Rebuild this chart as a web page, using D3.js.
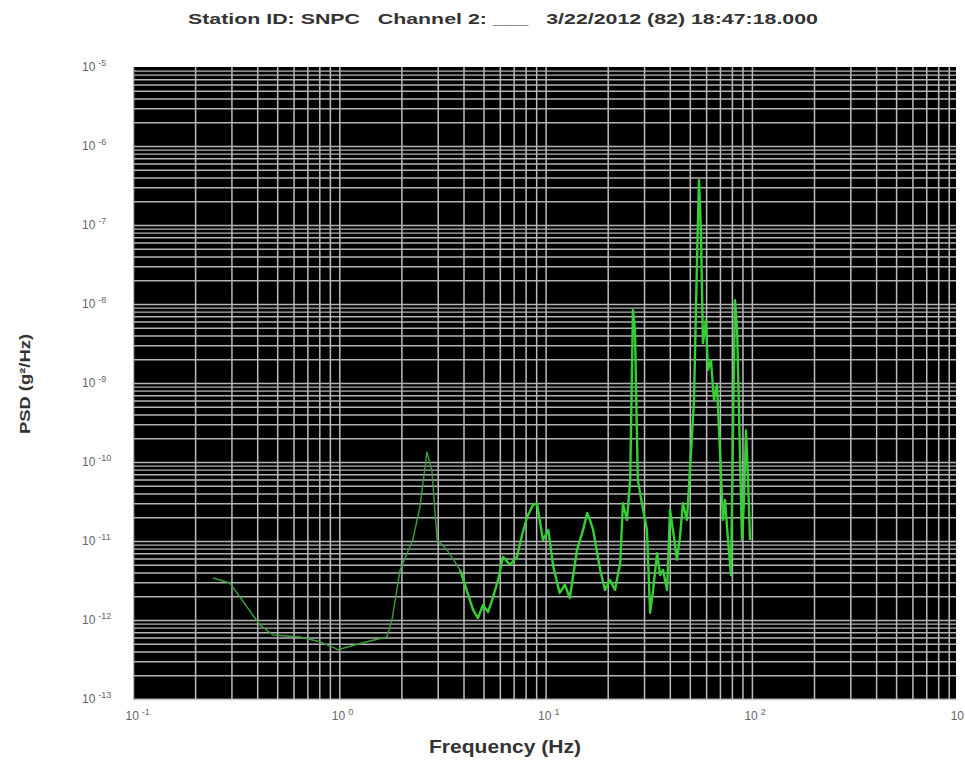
<!DOCTYPE html>
<html>
<head>
<meta charset="utf-8">
<script src="https://cdn.jsdelivr.net/npm/d3@7"></script>
<style>
  html, body { margin: 0; padding: 0; background: #fff; }
  svg { display: block; }
  text { font-family: "Liberation Sans", Arial, sans-serif; }
</style>
</head>
<body>
<svg id="chart" width="965" height="761"></svg>
<script>
const titleText = "Station ID: SNPC   Channel 2: ___   3/22/2012 (82) 18:47:18.000";
const xLabel = "Frequency (Hz)";
const yLabel = "PSD (g\u00B2/Hz)";

const xTickValues = [0.1, 1, 10, 100, 1000];
const xTickExponents = ["-1", "0", "1", "2", "3"];
const yTickValues = [1e-5, 1e-6, 1e-7, 1e-8, 1e-9, 1e-10, 1e-11, 1e-12, 1e-13];
const yTickExponents = ["-5", "-6", "-7", "-8", "-9", "-10", "-11", "-12", "-13"];

const freqHz = [0.244,0.295,0.413,0.478,0.646,0.806,0.953,0.98,1.36,1.70,1.80,1.97,2.27,2.46,2.66,2.81,2.98,3.33,3.85,4.45,4.70,4.97,5.26,5.56,5.88,6.22,6.72,7.26,7.69,8.13,8.69,9.08,9.71,10.3,10.9,11.7,12.4,13.1,14.2,15.2,15.9,16.4,17.0,18.4,19.4,20.5,21.7,23.0,23.7,24.8,25.7,26.5,27.1,28.0,29.3,31.0,32.1,33.2,34.7,35.9,37.1,38.8,40.1,41.9,43.3,44.8,46.3,48.4,50.1,52.4,54.2,55.4,56.6,57.9,59.9,61.2,63.3,65.5,67.7,70.0,72.4,74.1,76.6,79.2,81.1,82.8,84.8,86.6,89.5,91.6,93.6,95.8,97.9];
const psdValues = [3.4e-12,2.94e-12,8.6e-13,6.45e-13,6.1e-13,5.3e-13,4.4e-13,4.2e-13,5.3e-13,6.1e-13,1.0e-12,4.3e-12,1.03e-11,2.7e-11,1.34e-10,7.9e-11,1.03e-11,7.7e-12,4.3e-12,1.34e-12,1.06e-12,1.55e-12,1.26e-12,1.95e-12,3.2e-12,6.3e-12,5.0e-12,6.3e-12,1.19e-11,2.0e-11,2.86e-11,3.0e-11,1.03e-11,1.38e-11,4.7e-12,2.2e-12,2.8e-12,1.9e-12,7.7e-12,1.38e-11,2.26e-11,1.85e-11,1.38e-11,4.3e-12,2.4e-12,3.2e-12,2.4e-12,5.3e-12,3.0e-11,1.85e-11,5.9e-11,8.4e-9,4.7e-9,5.9e-11,3.0e-11,1.38e-11,1.23e-12,2.4e-12,7.0e-12,3.7e-12,4.3e-12,2.4e-12,2.47e-11,1.12e-11,5.8e-12,1.12e-11,3.0e-11,1.85e-11,7.9e-11,6.1e-10,3.6e-8,3.7e-7,8.6e-8,3.2e-9,6.3e-9,1.46e-9,1.95e-9,6.1e-10,9.4e-10,1.42e-10,1.85e-11,3.3e-11,1.03e-11,3.7e-12,3.4e-10,1.12e-8,4.7e-9,4.2e-10,1.03e-11,3.3e-11,2.5e-10,5.9e-11,1.03e-11];

const svg = d3.select("#chart");
const plot = { left: 133, top: 67, right: 956, bottom: 699 };
const W = plot.right - plot.left, H = plot.bottom - plot.top;

const x = d3.scaleLog().domain([0.1, 1000]).range([plot.left, plot.left + 4 * 206.3]);
const y = d3.scaleLog().domain([1e-13, 1e-5]).range([plot.bottom, plot.top]);

svg.append("rect").attr("x", plot.left).attr("y", plot.top)
  .attr("width", W).attr("height", H).attr("fill", "#000");

const xGrid = [];
for (let e = -1; e < 3; e++) for (let m = 1; m <= 9; m++) xGrid.push(m * Math.pow(10, e));
const yGrid = [];
for (let e = -13; e < -5; e++) for (let m = 1; m <= 9; m++) yGrid.push(m * Math.pow(10, e));

svg.append("clipPath").attr("id", "plotclip").append("rect")
  .attr("x", plot.left).attr("y", plot.top).attr("width", W).attr("height", H);

const grid = svg.append("g").attr("clip-path", "url(#plotclip)");
grid.append("g").attr("transform", `translate(0,${plot.bottom})`)
  .call(d3.axisBottom(x).tickValues(xGrid).tickSize(-H).tickFormat(""))
  .call(g => g.select(".domain").remove())
  .call(g => g.selectAll("line").attr("stroke", "#bcbcbc").attr("stroke-width", 1.5));
grid.append("g").attr("transform", `translate(${plot.left},0)`)
  .call(d3.axisLeft(y).tickValues(yGrid).tickSize(-W).tickFormat(""))
  .call(g => g.select(".domain").remove())
  .call(g => g.selectAll("line").attr("stroke", "#b4b4b4").attr("stroke-width", 1.4));

svg.append("line").attr("x1", plot.left).attr("x2", plot.right)
  .attr("y1", plot.bottom + 0.5).attr("y2", plot.bottom + 0.5)
  .attr("stroke", "#c8c8c8").attr("stroke-width", 1.5);

// data line: quiet low-frequency part thinner/dimmer, dense high-frequency part brighter
const pts = freqHz.map((f, i) => [f, psdValues[i]]);
const lineGen = d3.line().x(d => x(d[0])).y(d => y(d[1]));
svg.append("path").datum(pts.filter(d => d[0] <= 4.5))
  .attr("clip-path", "url(#plotclip)")
  .attr("fill", "none").attr("stroke", "#3a9e3a")
  .attr("stroke-width", 1.4).attr("stroke-linejoin", "round")
  .attr("d", lineGen);
svg.append("path").datum(pts.filter(d => d[0] >= 3.8))
  .attr("clip-path", "url(#plotclip)")
  .attr("fill", "none").attr("stroke", "#33cf33")
  .attr("stroke-width", 2.4).attr("stroke-linejoin", "round")
  .attr("d", lineGen);

// tick labels
const xAx = svg.append("g").attr("transform", `translate(0,${plot.bottom})`)
  .call(d3.axisBottom(x).tickValues(xTickValues).tickSize(0).tickPadding(12));
xAx.select(".domain").remove();
xAx.selectAll(".tick text").each(function(d, i) {
  const t = d3.select(this);
  t.text(null).attr("fill", "#666").attr("font-size", 12).attr("text-anchor", "start")
   .attr("font-family", "Liberation Sans, Arial, sans-serif");
  t.append("tspan").attr("x", -8).text("10");
  t.append("tspan").attr("dy", "-0.55em").attr("dx", 3).attr("font-size", 9).text(xTickExponents[i]);
});

const yAx = svg.append("g").attr("transform", `translate(${plot.left},0)`)
  .call(d3.axisLeft(y).tickValues(yTickValues).tickSize(0).tickPadding(0));
yAx.select(".domain").remove();
yAx.selectAll(".tick text").each(function(d, i) {
  const t = d3.select(this);
  t.text(null).attr("fill", "#666").attr("font-size", 12).attr("text-anchor", "start")
   .attr("font-family", "Liberation Sans, Arial, sans-serif");
  t.attr("x", -51);
  t.append("tspan").text("10");
  t.append("tspan").attr("dy", "-0.55em").attr("dx", 3).attr("font-size", 9).text(yTickExponents[i]);
});

// title
svg.append("text").attr("x", 503).attr("y", 24).attr("text-anchor", "middle")
  .attr("font-size", 15).attr("font-weight", "bold").attr("fill", "#333")
  .attr("textLength", 630).attr("lengthAdjust", "spacingAndGlyphs")
  .style("white-space", "pre")
  .text(titleText);

// axis labels
svg.append("text").attr("x", 505).attr("y", 753).attr("text-anchor", "middle")
  .attr("font-size", 18).attr("font-weight", "bold").attr("fill", "#333")
  .attr("textLength", 152).attr("lengthAdjust", "spacingAndGlyphs")
  .text(xLabel);
svg.append("text").attr("transform", "translate(30,384) rotate(-90)")
  .attr("text-anchor", "middle")
  .attr("font-size", 14).attr("font-weight", "bold").attr("fill", "#333")
  .attr("textLength", 100).attr("lengthAdjust", "spacingAndGlyphs")
  .text(yLabel);
</script>
</body>
</html>
